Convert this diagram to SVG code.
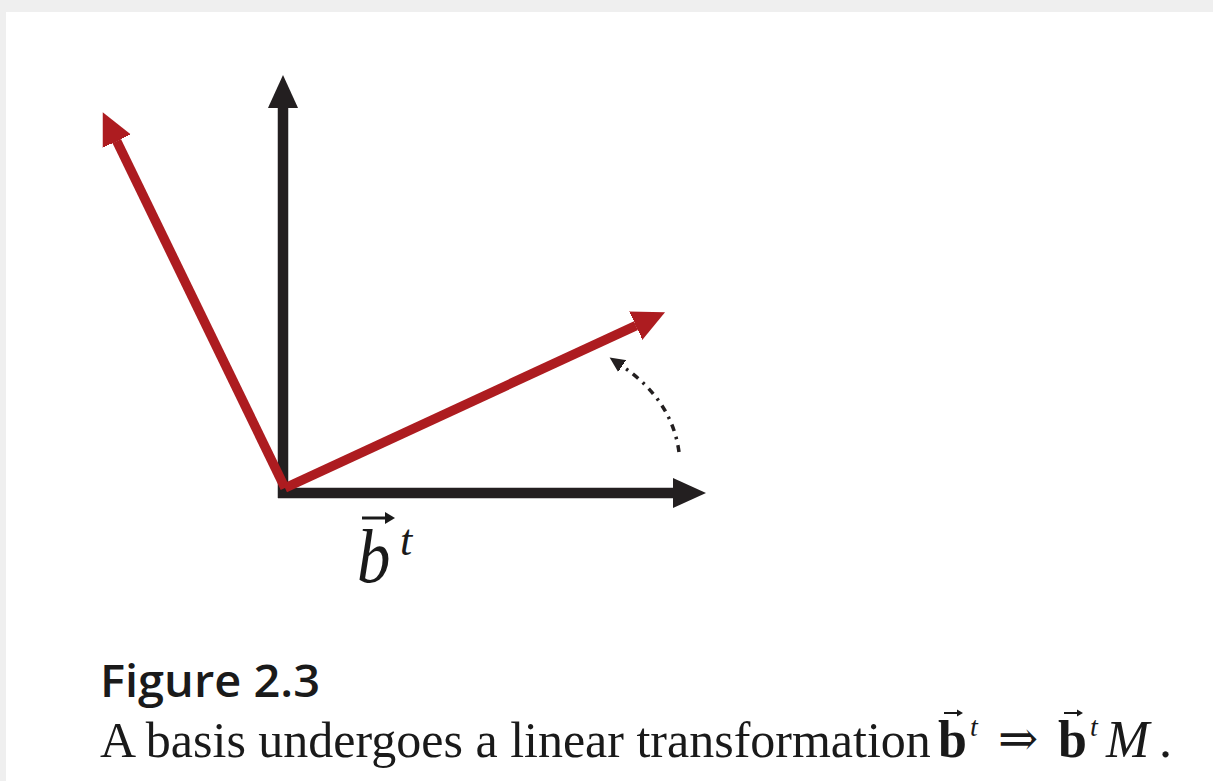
<svg xmlns="http://www.w3.org/2000/svg" width="1213" height="781" viewBox="0 0 1213 781">
<style>
.blk{stroke:#231f20;stroke-width:10.5;fill:none}
.red{stroke:#ad1c20;stroke-width:9.5;fill:none;stroke-linejoin:miter}
.dash{stroke:#231f20;stroke-width:3.5;fill:none;stroke-dasharray:7 6 2.5 6}
.serif{font-family:"Liberation Serif","Times New Roman",serif;fill:#1a1a1a}
.sans{font-family:"Open Sans","Liberation Sans",sans-serif;fill:#1a1a1a}
</style>
<defs>
<marker id="hb" markerUnits="userSpaceOnUse" markerWidth="40" markerHeight="40" viewBox="0 -20 40 40" refX="0" refY="0" orient="auto">
<path d="M-1,-15.5 L33,0 L-1,15.5 z" fill="#231f20"/>
</marker>
<marker id="hr" markerUnits="userSpaceOnUse" markerWidth="40" markerHeight="40" viewBox="0 -20 40 40" refX="0" refY="0" orient="auto">
<path d="M-1,-16 L32,0 L-1,16 z" fill="#ad1c20"/>
</marker>
<marker id="hs" markerUnits="userSpaceOnUse" markerWidth="20" markerHeight="20" viewBox="0 -10 20 20" refX="0" refY="0" orient="auto">
<path d="M-1,-7.5 L15,0 L-1,7.5 z" fill="#231f20"/>
</marker>
</defs>
<rect x="0" y="0" width="1213" height="781" fill="#efefef"/>
<rect x="6" y="12" width="1207" height="769" fill="#ffffff"/>
<g id="connectors">
<path id="axis-y" class="blk" d="M283,498 L283,108" marker-end="url(#hb)"/>
<path id="axis-x" class="blk" d="M278,493 L673,493" marker-end="url(#hb)"/>
<path id="red-left" class="red" d="M285,488 L116.7,141" marker-end="url(#hr)"/>
<path id="red-right" class="red" d="M285,488 L636,325.6" marker-end="url(#hr)"/>
<path id="rotation" class="dash" d="M679,452 Q672,400 622,366" marker-end="url(#hs)"/>
</g>
<g id="label-b">
<text class="serif" x="0" y="582" font-size="76" font-style="italic" transform="translate(357,0) scale(0.88,1)">b</text>
<path d="M362,518 L386,518" stroke="#1a1a1a" stroke-width="3"/>
<path d="M385,512 L395,518 L385,524 z" fill="#1a1a1a"/>
<text class="serif" x="400" y="555" font-size="44" font-style="italic">t</text>
</g>
<g id="caption">
<text class="sans" x="100" y="697" font-size="46" font-weight="600" textLength="220" lengthAdjust="spacingAndGlyphs">Figure 2.3</text>
<text class="serif" x="100" y="757" font-size="50">A basis undergoes a linear transformation</text>
<text class="serif" x="938" y="757" font-size="52" font-weight="bold">b</text>
<path d="M944,713 L958,713" stroke="#1a1a1a" stroke-width="2"/>
<path d="M957,709.5 L963,713 L957,716.5 z" fill="#1a1a1a"/>
<text class="serif" x="970" y="736" font-size="28" font-style="italic">t</text>
<text x="998" y="755" font-size="48" font-family="DejaVu Serif, serif" fill="#1a1a1a">⇒</text>
<text class="serif" x="1058" y="757" font-size="52" font-weight="bold">b</text>
<path d="M1064,713 L1078,713" stroke="#1a1a1a" stroke-width="2"/>
<path d="M1077,709.5 L1083,713 L1077,716.5 z" fill="#1a1a1a"/>
<text class="serif" x="1090" y="736" font-size="28" font-style="italic">t</text>
<text class="serif" x="1106" y="757" font-size="52" font-style="italic">M</text>
<text class="serif" x="1159" y="757" font-size="52">.</text>
</g>
</svg>
